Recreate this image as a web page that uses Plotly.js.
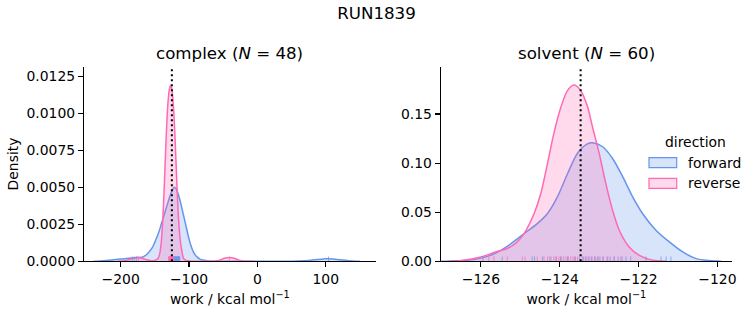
<!DOCTYPE html>
<html><head><meta charset="utf-8">
<script src="https://cdn.plot.ly/plotly-3.0.1.min.js"></script>
<style>html,body{margin:0;padding:0;background:#fff}</style>
</head><body><div id="chart" style="width:753px;height:325px"></div>
<script>
// ---- complex phase: KDE curves ----
const complexForwardX = [-240, -225, -210, -195, -185, -175, -167, -160, -154, -149, -144, -140, -136, -132, -128, -124.5, -121.8, -119, -115.5, -112, -108, -104, -100, -96, -92, -88, -84, -80, -72, -60, -30, 20, 60, 75, 88, 97, 103.6, 111, 121, 134, 150];
const complexForwardY = [0, 0.00004, 0.0001, 0.00018, 0.00023, 0.00025, 0.0003, 0.00055, 0.0009, 0.0014, 0.002, 0.0026, 0.0032, 0.0038, 0.0044, 0.0048, 0.0050, 0.0049, 0.0045, 0.0039, 0.0031, 0.0023, 0.0015, 0.0009, 0.0005, 0.00028, 0.00015, 0.00009, 0.00002, 0, 0, 0, 0.00002, 0.00006, 0.00012, 0.00016, 0.00018, 0.00016, 0.0001, 0.00004, 0];
const complexReverseX = [-205, -192, -183, -177, -170, -162, -155, -150, -146, -143.5, -141, -138.5, -136, -133.5, -131, -128.8, -126.8, -125, -123, -120.5, -118, -115.5, -113, -110.5, -108, -104, -95, -80, -65, -55, -48, -41.3, -34, -27, -18, -5];
const complexReverseY = [0, 0.00005, 0.00018, 0.00025, 0.00022, 0.0001, 0.00004, 0.00006, 0.00015, 0.0004, 0.0011, 0.0027, 0.0053, 0.0083, 0.0106, 0.0116, 0.0119, 0.0116, 0.0106, 0.0084, 0.0055, 0.003, 0.0015, 0.0007, 0.0002, 0.00005, 0, 0, 0.00001, 0.00008, 0.0002, 0.00026, 0.0002, 0.00008, 0.00001, 0];
const complexForwardRug = [-183, -180, -177, -124, -123, -122, -121.2, -120.5, -119.8, -119, -118.3, -117.6, -117, -116.2, -115.5, -114.8, -114, -121.6, -120, -118.7, -116.6, -115.2, -113.6, 104];
const complexReverseRug = [-174, -41, -130, -129.3, -128.7, -128.2, -127.7, -127.2, -126.8, -126.4, -126, -125.6, -125.2, -124.8, -124.4, -124, -123.5, -123, -122.5, -127.5, -126.2, -125.4, -124.2, -128.9];
const complexLine = [-125.1];

// ---- solvent phase ----
const solventForwardX = [-127.0, -126.77, -126.18, -125.76, -125.33, -124.91, -124.57, -124.31, -124.06, -123.80, -123.55, -123.30, -123.17, -122.91, -122.66, -122.40, -122.15, -121.90, -121.56, -121.22, -120.88, -120.54, -120.20, -119.9];
const solventForwardY = [0, 0.0003, 0.0017, 0.006, 0.0153, 0.028, 0.0384, 0.0487, 0.0656, 0.0894, 0.110, 0.1195, 0.1207, 0.1166, 0.1047, 0.086, 0.0656, 0.0487, 0.0316, 0.0197, 0.0095, 0.0027, 0.0007, 0];
const solventReverseX = [-126.8, -126.5, -126.0, -125.63, -125.33, -125.1, -124.91, -124.65, -124.48, -124.31, -124.15, -123.97, -123.80, -123.64, -123.47, -123.30, -123.17, -123.0, -122.83, -122.66, -122.49, -122.24, -121.98, -121.64, -121.3];
const solventReverseY = [0, 0.0008, 0.0044, 0.0095, 0.013, 0.019, 0.028, 0.0487, 0.069, 0.0997, 0.130, 0.157, 0.174, 0.1795, 0.174, 0.158, 0.137, 0.110, 0.079, 0.052, 0.0316, 0.0146, 0.006, 0.001, 0];
const solventForwardRug = [-125.95, -125.46, -124.70, -124.64, -124.44, -124.25, -124.10, -123.98, -123.80, -123.62, -123.50, -123.42, -123.35, -123.28, -123.20, -123.12, -123.05, -122.98, -122.90, -122.80, -122.72, -122.62, -122.52, -122.42, -122.32, -122.20, -121.81, -121.43, -121.30, -121.18];
const solventReverseRug = [-125.80, -125.67, -125.33, -124.95, -124.88, -124.57, -124.40, -124.31, -124.22, -124.15, -124.08, -124.02, -123.95, -123.90, -123.84, -123.78, -123.72, -123.66, -123.60, -123.55, -123.40, -123.33, -123.25, -123.18, -123.10, -123.02, -122.90, -122.78, -122.62, -122.45];
const solventLine = [-123.47];

const directions = ['forward', 'reverse'];
const lineColors = ['#6495ED', '#FF69B4'];
const fillColors = ['rgba(100,149,237,0.25)', 'rgba(255,105,180,0.25)'];
const rugColors = ['rgba(100,149,237,0.7)', 'rgba(255,105,180,0.7)'];

const yMax1 = 0.01315, yMax2 = 0.1981;
const font = 'DejaVu Sans, sans-serif';

function kde(x, y, i, xa, ya) {
  return {type: 'scatter', mode: 'lines', x: x, y: y, xaxis: xa, yaxis: ya,
    fill: 'tozeroy', fillcolor: fillColors[i], line: {color: lineColors[i], width: 1.5, shape: 'spline', smoothing: 0.8},
    name: directions[i], showlegend: false, hoverinfo: 'skip'};
}
function rug(vals, i, xa, ya, h) {
  const xs = [], ys = [];
  vals.forEach(v => { xs.push(v, v, null); ys.push(0, h, null); });
  return {type: 'scatter', mode: 'lines', x: xs, y: ys, xaxis: xa, yaxis: ya,
    line: {color: rugColors[i], width: 1}, showlegend: false, hoverinfo: 'skip'};
}

const data = [
  kde(complexForwardX, complexForwardY, 0, 'x', 'y'),
  kde(complexReverseX, complexReverseY, 1, 'x', 'y'),
  kde(solventForwardX, solventForwardY, 0, 'x2', 'y2'),
  kde(solventReverseX, solventReverseY, 1, 'x2', 'y2'),
  rug(complexForwardRug, 0, 'x', 'y', yMax1 * 0.025),
  rug(complexReverseRug, 1, 'x', 'y', yMax1 * 0.025),
  rug(solventForwardRug, 0, 'x2', 'y2', yMax2 * 0.025),
  rug(solventReverseRug, 1, 'x2', 'y2', yMax2 * 0.025)
];

const W = 753, H = 325;
const px = v => v / W, py = v => 1 - v / H;

const axisCommon = {showline: true, linecolor: '#000', linewidth: 1.1, ticks: 'outside', ticklen: 5, tickwidth: 1.1,
  tickcolor: '#000', showgrid: false, zeroline: false, tickfont: {family: font, size: 13.9, color: '#000'}, mirror: false};

const shapes = [];
complexLine.forEach(v => shapes.push({type: 'line', xref: 'x', yref: 'y domain', x0: v, x1: v, y0: 0, y1: 1,
  line: {color: '#000', width: 2, dash: '2px,3px'}}));
solventLine.forEach(v => shapes.push({type: 'line', xref: 'x2', yref: 'y2 domain', x0: v, x1: v, y0: 0, y1: 1,
  line: {color: '#000', width: 2, dash: '2px,3px'}}));
// legend patches
const legendRows = [162.7, 183.3];
directions.forEach((d, i) => shapes.push({type: 'rect', xref: 'paper', yref: 'paper',
  x0: px(649), x1: px(676.7), y0: py(legendRows[i] - 5), y1: py(legendRows[i] + 5),
  fillcolor: fillColors[i], line: {color: lineColors[i], width: 1.2}}));

const annotations = [
  {text: 'complex (<i>N</i> = 48)', xref: 'paper', yref: 'paper', x: px((84 + 375.7) / 2), y: py(54), showarrow: false,
   xanchor: 'center', yanchor: 'middle', font: {family: font, size: 16.67, color: '#000'}},
  {text: 'solvent (<i>N</i> = 60)', xref: 'paper', yref: 'paper', x: px((440.7 + 732) / 2), y: py(54), showarrow: false,
   xanchor: 'center', yanchor: 'middle', font: {family: font, size: 16.67, color: '#000'}},
  {text: 'direction', xref: 'paper', yref: 'paper', x: px(695), y: py(141.5), showarrow: false,
   xanchor: 'center', yanchor: 'middle', font: {family: font, size: 13.9, color: '#000'}}
];
directions.forEach((d, i) => annotations.push({text: d, xref: 'paper', yref: 'paper', x: px(686), y: py(legendRows[i]),
  showarrow: false, xanchor: 'left', yanchor: 'middle', font: {family: font, size: 13.9, color: '#000'}}));

const xTitle = {text: 'work / kcal mol<sup>−1</sup>', font: {family: font, size: 13.9, color: '#000'}, standoff: 8};

const layout = {
  width: W, height: H, margin: {l: 0, r: 0, t: 0, b: 0}, paper_bgcolor: '#fff', plot_bgcolor: '#fff',
  showlegend: false,
  title: {text: 'RUN1839', x: 0.5, xanchor: 'center', y: 1 - 13 / H, yanchor: 'middle', font: {family: font, size: 16.67, color: '#000'}},
  xaxis: Object.assign({}, axisCommon, {domain: [px(84), px(375.7)], range: [-253.6, 173], dtick: 100, tick0: 0, anchor: 'y', title: xTitle}),
  yaxis: Object.assign({}, axisCommon, {domain: [py(261.3), py(66.7)], range: [0, yMax1], dtick: 0.0025, tick0: 0, tickformat: '.4f', anchor: 'x',
    title: {text: 'Density', font: {family: font, size: 13.9, color: '#000'}, standoff: 4}}),
  xaxis2: Object.assign({}, axisCommon, {domain: [px(440.7), px(732)], range: [-127.02, -119.63], dtick: 2, tick0: 0, anchor: 'y2', title: xTitle}),
  yaxis2: Object.assign({}, axisCommon, {domain: [py(261.3), py(66.7)], range: [0, yMax2], dtick: 0.05, tick0: 0, tickformat: '.2f', anchor: 'x2'}),
  shapes: shapes, annotations: annotations
};

Plotly.newPlot('chart', data, layout, {displayModeBar: false, staticPlot: true});
</script></body></html>
